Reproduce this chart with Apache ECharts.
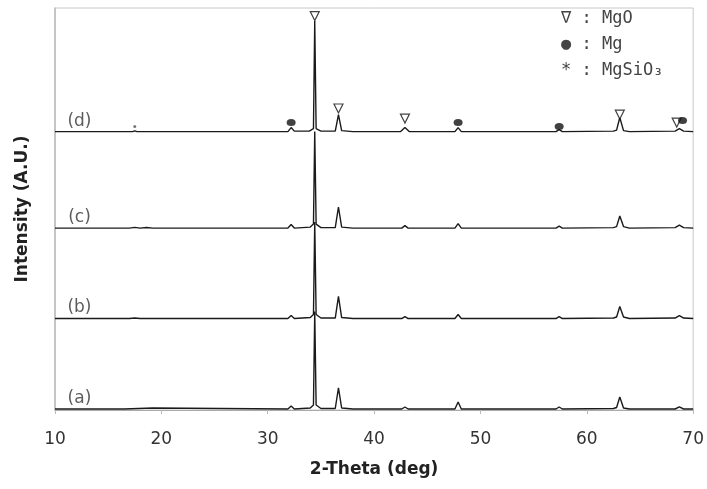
<!DOCTYPE html>
<html>
<head>
<meta charset="utf-8">
<script src="https://cdn.jsdelivr.net/npm/echarts@6/dist/echarts.min.js"></script>
<style>
  html, body { margin: 0; padding: 0; background: #fff; }
  #main { width: 707px; height: 489px; }
</style>
</head>
<body>
<div id="main"></div>
<script>
// XRD patterns, [2-theta, relative intensity]
var patternA = [[10,0],[16.5,0],[16.6,1],[19.2,1],[19.3,0],[31.9,0],[32.2,3],[32.5,0],[34.0,1],[34.3,4],[34.42,97],[34.55,4],[35.0,0.5],[36.35,0.5],[36.65,21],[36.95,1],[38,0],[42.6,0],[42.9,2],[43.2,0],[47.6,0],[47.9,7],[48.2,0],[57.1,0],[57.4,2],[57.7,0],[62.5,0.5],[62.8,1.5],[63.1,12],[63.45,1],[64,0],[68.3,0],[68.7,2],[69.1,0],[70,0]]
var patternB = [[10,0],[17,0],[17.5,0.6],[18,0],[31.9,0],[32.2,3],[32.5,0],[34.0,1],[34.3,4],[34.42,96],[34.55,4],[35.0,0.5],[36.35,0.5],[36.65,22],[36.95,1],[38,0],[42.6,0],[42.9,2],[43.2,0],[47.6,0],[47.9,4],[48.2,0],[57.1,0],[57.4,2],[57.7,0],[62.5,0.5],[62.8,1.5],[63.1,12],[63.45,1.5],[64,0],[68.3,0.5],[68.7,3],[69.1,0.5],[70,0]]
var patternC = [[10,0],[17,0],[17.5,0.7],[18,0],[18.6,0.6],[19.2,0],[31.9,0],[32.2,3.5],[32.5,0],[34.0,1],[34.3,4],[34.42,96],[34.55,4],[35.0,0.5],[36.35,0.5],[36.65,21],[36.95,1],[38,0],[42.6,0],[42.9,2.5],[43.2,0],[47.6,0],[47.9,4.5],[48.2,0],[57.1,0],[57.4,2],[57.7,0],[62.5,0.5],[62.8,1.5],[63.1,12],[63.45,1.5],[64,0],[68.3,0.5],[68.7,3],[69.1,0.5],[70,0]]
var patternD = [[10,0],[17.3,0],[17.5,0.8],[17.7,0],[31.9,0],[32.2,4],[32.5,0.5],[33.9,0.5],[34.3,3],[34.42,110],[34.55,3],[35.0,0.5],[36.35,0.5],[36.65,17],[36.95,1],[38,0],[42.5,0],[42.9,4],[43.3,0],[47.6,0],[47.9,4],[48.2,0],[57.1,0],[57.4,2],[57.7,0],[62.5,0.5],[62.8,1.5],[63.1,14],[63.45,1],[64,0],[68.3,0.5],[68.7,3],[69.1,0.5],[70,0]]

// vertical stacking offsets of the four patterns
var patternNames = ['(a)', '(b)', '(c)', '(d)']
var patternOffsets = [1, 91, 181, 277]

// phase markers on pattern (d): [2-theta, intensity]
var mgoMarks = [[34.42,392],[36.65,300],[42.9,290],[63.1,294],[68.45,286]]
var mgMarks = [[32.2,286],[47.9,286],[57.4,282],[69.0,288]]
var mgsio3Marks = [[17.5,282]]

var xTicks = [10, 20, 30, 40, 50, 60, 70]

var chart = echarts.init(document.getElementById('main'))

var patterns = [patternA, patternB, patternC, patternD]
var series = patterns.map(function (p, i) {
  return {
    name: patternNames[i],
    type: 'line',
    symbol: 'none',
    silent: true,
    lineStyle: { color: '#1a1a1a', width: 1.4 },
    data: p.map(function (d) { return [d[0], d[1] + patternOffsets[i]] }),
    z: 3
  }
})

// pattern labels (a)..(d)
series.push({
  type: 'scatter',
  symbolSize: 0,
  silent: true,
  data: patternNames.map(function (n, i) { return { value: [12.3, patternOffsets[i]], name: n } }),
  label: {
    show: true,
    position: 'top',
    distance: 2,
    formatter: '{b}',
    fontFamily: 'DejaVu Sans',
    fontSize: 17,
    color: '#333'
  }
})

series.push({
  type: 'scatter',
  symbol: 'triangle',
  symbolRotate: 180,
  symbolSize: [9, 9],
  itemStyle: { color: '#fff', borderColor: '#111', borderWidth: 1.2 },
  data: mgoMarks,
  z: 5
})
series.push({
  type: 'scatter',
  symbol: 'circle',
  symbolSize: [9, 7],
  itemStyle: { color: '#111' },
  data: mgMarks,
  z: 5
})
series.push({
  type: 'scatter',
  symbol: 'circle',
  symbolSize: 3,
  itemStyle: { color: '#555' },
  data: mgsio3Marks,
  z: 5
})

chart.setOption({
  animation: false,
  backgroundColor: '#fff',
  grid: {
    left: 55, right: 10, top: 8, bottom: 79,
    show: true,
    borderColor: '#c8c8c8',
    borderWidth: 1
  },
  xAxis: {
    type: 'value',
    min: xTicks[0],
    max: xTicks[xTicks.length - 1],
    interval: 10,
    name: '2-Theta (deg)',
    nameLocation: 'middle',
    nameGap: 51,
    nameTextStyle: { fontFamily: 'DejaVu Sans', fontWeight: 'bold', fontSize: 17, color: '#222' },
    axisLine: { lineStyle: { color: '#aaa' } },
    axisTick: { show: true, length: 4, lineStyle: { color: '#bbb' } },
    axisLabel: { margin: 21, fontFamily: 'DejaVu Sans', fontSize: 17, color: '#333' },
    splitLine: { show: false }
  },
  yAxis: {
    type: 'value',
    min: 0,
    max: 400,
    name: 'Intensity (A.U.)',
    nameLocation: 'middle',
    nameGap: 24,
    nameTextStyle: { fontFamily: 'DejaVu Sans', fontWeight: 'bold', fontSize: 17, color: '#222' },
    axisLine: { show: true, lineStyle: { color: '#bbb', width: 1.5 } },
    axisTick: { show: false },
    axisLabel: { show: false },
    splitLine: { show: false }
  },
  graphic: [
    { type: 'text', left: 561, top: 10, style: { text: '∇ : MgO', fontFamily: 'DejaVu Sans Mono', fontSize: 17, fill: '#444' } },
    { type: 'text', left: 561, top: 36, style: { text: '● : Mg', fontFamily: 'DejaVu Sans Mono', fontSize: 17, fill: '#444' } },
    { type: 'text', left: 561, top: 62, style: { text: '* : MgSiO₃', fontFamily: 'DejaVu Sans Mono', fontSize: 17, fill: '#444' } }
  ],
  series: series
})
</script>
</body>
</html>
